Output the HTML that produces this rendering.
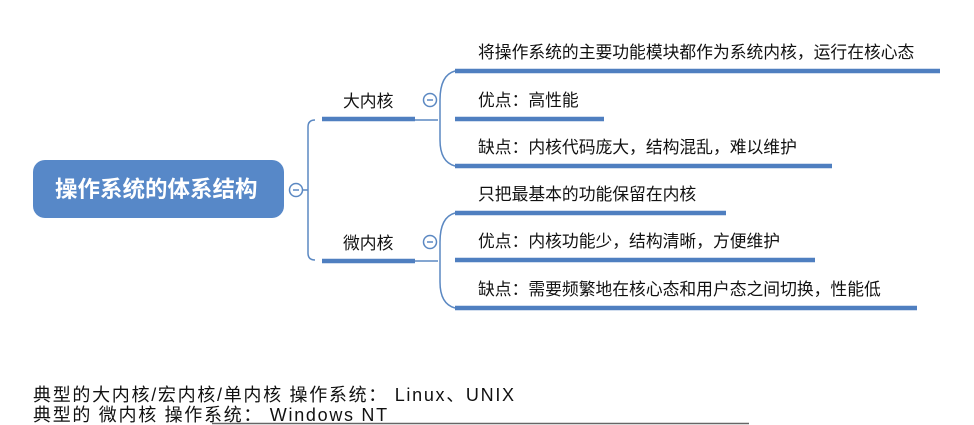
<!DOCTYPE html>
<html><head><meta charset="utf-8"><style>
body{margin:0;width:974px;height:425px;background:#fff;overflow:hidden;position:relative;font-family:"Liberation Sans","Noto Sans CJK SC",sans-serif;}
.t{position:absolute;font-size:16.8px;color:#111;white-space:nowrap;line-height:20px}
</style></head><body>
<svg width="974" height="425" style="position:absolute;left:0;top:0">
<rect x="33" y="160" width="251" height="58" rx="12" fill="#5788c8"/>
<g fill="none" stroke="#5b88c2" stroke-width="1.5">
<circle cx="296" cy="190" r="6.5"/>
<line x1="293" y1="190" x2="299" y2="190"/>
<path d="M302.5 190 H308 M315 120 Q308 120 308 127 V253 Q308 260 315 260"/>
<line x1="415" y1="120" x2="438" y2="120"/>
<line x1="415" y1="261" x2="438" y2="261"/>
<circle cx="430" cy="100" r="6.5"/><line x1="427" y1="100" x2="433" y2="100"/>
<circle cx="430" cy="242" r="6.5"/><line x1="427" y1="242" x2="433" y2="242"/>
<path d="M455 71 Q440 75 440 100 V140 Q440 162 455 166"/>
<path d="M455 213 Q440 217 440 242 V282 Q440 304 455 308"/>
</g>
<g stroke="#4f7fc0" stroke-width="4.5">
<line x1="322" y1="119" x2="415" y2="119"/>
<line x1="322" y1="261" x2="415" y2="261"/>
<line x1="455" y1="71" x2="940" y2="71"/>
<line x1="455" y1="119" x2="604" y2="119"/>
<line x1="455" y1="166" x2="832" y2="166"/>
<line x1="455" y1="213" x2="726" y2="213"/>
<line x1="455" y1="260" x2="815" y2="260"/>
<line x1="455" y1="308" x2="917" y2="308"/>
</g>
<line x1="212" y1="423.5" x2="749" y2="423.5" stroke="#666" stroke-width="1.5"/>
</svg>
<div class="t" style="left:55px;top:177px;font-size:22.5px;font-weight:bold;color:#fff;line-height:26px">操作系统的体系结构</div>
<div class="t" style="left:343px;top:92px">大内核</div>
<div class="t" style="left:343px;top:234px">微内核</div>
<div class="t" style="left:478px;top:43px">将操作系统的主要功能模块都作为系统内核，运行在核心态</div>
<div class="t" style="left:478px;top:91px">优点：高性能</div>
<div class="t" style="left:478px;top:138px">缺点：内核代码庞大，结构混乱，难以维护</div>
<div class="t" style="left:478px;top:185px">只把最基本的功能保留在内核</div>
<div class="t" style="left:478px;top:232px">优点：内核功能少，结构清晰，方便维护</div>
<div class="t" style="left:478px;top:280px">缺点：需要频繁地在核心态和用户态之间切换，性能低</div>
<div class="t" style="left:33px;top:385px;font-size:18px;letter-spacing:1.7px">典型的大内核/宏内核/单内核 操作系统： Linux、UNIX</div>
<div class="t" style="left:33px;top:405px;font-size:18px;letter-spacing:1.7px">典型的 微内核 操作系统： Windows NT</div>
</body></html>
